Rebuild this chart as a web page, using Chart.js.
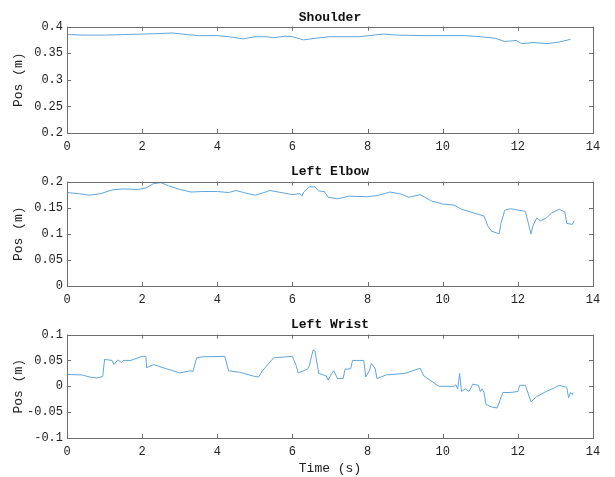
<!DOCTYPE html>
<html>
<head>
<meta charset="utf-8">
<script src="https://cdn.jsdelivr.net/npm/chart.js@4/dist/chart.umd.min.js"></script>
<style>
  html, body { margin: 0; padding: 0; background: #fff; }
  #wrap { position: relative; width: 615px; height: 477px; }
  .panel { position: absolute; left: 0; width: 615px; }
</style>
</head>
<body>
<div id="wrap">
  <div class="panel" style="top:0;height:160px"><canvas id="c1"></canvas></div>
  <div class="panel" style="top:155px;height:155px"><canvas id="c2"></canvas></div>
  <div class="panel" style="top:310px;height:167px"><canvas id="c3"></canvas></div>
</div>
<script>
// values (time in s, position in m)
const shoulderT = [0, 0.5, 1.0, 1.5, 2.0, 2.5, 2.8, 3.2, 3.5, 4.0, 4.3, 4.7, 5.0, 5.3, 5.5, 5.8, 6.0, 6.3, 6.6, 7.0, 7.4, 7.8, 8.4, 8.8, 9.5, 10.0, 10.6, 11.0, 11.4, 11.65, 11.8, 11.95, 12.1, 12.4, 12.8, 13.1, 13.4];
const shoulderY = [0.385, 0.384, 0.384, 0.385, 0.386, 0.387, 0.388, 0.385, 0.383, 0.383, 0.381, 0.377, 0.381, 0.381, 0.379, 0.382, 0.381, 0.375, 0.378, 0.381, 0.381, 0.381, 0.386, 0.384, 0.383, 0.383, 0.383, 0.381, 0.378, 0.372, 0.373, 0.374, 0.368, 0.370, 0.368, 0.371, 0.376];

const elbowT = [0, 0.3, 0.6, 0.9, 1.2, 1.5, 1.9, 2.1, 2.3, 2.5, 2.7, 3.0, 3.3, 3.6, 4.0, 4.3, 4.5, 4.7, 5.0, 5.2, 5.4, 5.7, 6.0, 6.2, 6.25, 6.3, 6.45, 6.6, 6.7, 6.85, 6.95, 7.2, 7.5, 8.0, 8.3, 8.6, 8.9, 9.1, 9.4, 9.7, 10.0, 10.3, 10.5, 11.1, 11.2, 11.3, 11.5, 11.55, 11.65, 11.8, 12.2, 12.35, 12.4, 12.5, 12.6, 12.75, 12.9, 13.1, 13.25, 13.3, 13.45, 13.5];
const elbowY = [0.179, 0.177, 0.174, 0.177, 0.184, 0.186, 0.185, 0.188, 0.196, 0.198, 0.192, 0.185, 0.180, 0.181, 0.181, 0.179, 0.183, 0.179, 0.174, 0.178, 0.183, 0.179, 0.175, 0.177, 0.172, 0.180, 0.190, 0.190, 0.182, 0.181, 0.170, 0.167, 0.172, 0.171, 0.174, 0.180, 0.176, 0.170, 0.175, 0.163, 0.157, 0.155, 0.147, 0.134, 0.115, 0.105, 0.100, 0.120, 0.145, 0.148, 0.143, 0.100, 0.115, 0.130, 0.125, 0.130, 0.140, 0.147, 0.142, 0.120, 0.118, 0.125];

const wristT = [0, 0.4, 0.6, 0.8, 0.95, 1.0, 1.2, 1.25, 1.35, 1.45, 1.5, 1.7, 2.0, 2.1, 2.12, 2.3, 2.6, 3.0, 3.3, 3.35, 3.45, 3.6, 4.2, 4.3, 4.6, 5.0, 5.1, 5.2, 5.5, 6.0, 6.1, 6.15, 6.4, 6.45, 6.55, 6.6, 6.7, 6.9, 6.95, 7.05, 7.1, 7.2, 7.35, 7.4, 7.55, 7.6, 7.9, 7.95, 8.05, 8.1, 8.2, 8.25, 8.5, 9.0, 9.4, 9.5, 9.9, 10.3, 10.35, 10.4, 10.45, 10.5, 10.6, 10.7, 10.8, 10.95, 11.0, 11.05, 11.1, 11.15, 11.3, 11.45, 11.6, 11.8, 12.0, 12.05, 12.2, 12.35, 12.5, 12.7, 13.0, 13.1, 13.2, 13.3, 13.35, 13.4, 13.45, 13.47];
const wristY = [0.023, 0.022, 0.018, 0.016, 0.019, 0.052, 0.050, 0.042, 0.051, 0.046, 0.050, 0.050, 0.058, 0.058, 0.036, 0.042, 0.035, 0.026, 0.030, 0.028, 0.055, 0.057, 0.058, 0.030, 0.027, 0.019, 0.018, 0.030, 0.055, 0.058, 0.040, 0.026, 0.033, 0.040, 0.070, 0.068, 0.025, 0.020, 0.012, 0.025, 0.030, 0.015, 0.015, 0.033, 0.034, 0.050, 0.050, 0.018, 0.030, 0.044, 0.035, 0.015, 0.022, 0.025, 0.035, 0.020, 0.000, 0.000, 0.003, -0.005, 0.025, -0.010, -0.005, -0.010, 0.004, 0.002, -0.010, -0.005, -0.012, -0.035, -0.040, -0.042, -0.012, -0.012, -0.010, 0.002, 0.002, -0.030, -0.020, -0.012, -0.002, 0.002, 0.000, -0.002, -0.022, -0.012, -0.016, -0.012];

const xTicks = [0, 2, 4, 6, 8, 10, 12, 14];
const shoulderTicks = [0.2, 0.25, 0.3, 0.35, 0.4];
const elbowTicks = [0, 0.05, 0.1, 0.15, 0.2];
const wristTicks = [-0.1, -0.05, 0, 0.05, 0.1];

const MONO = '"Liberation Mono", "DejaVu Sans Mono", monospace';
const LINE = 'rgb(96,166,222)';

// MATLAB style box with inward ticks on all four sides
const boxPlugin = {
  id: 'box',
  afterDraw(chart) {
    const {ctx, chartArea: a, scales} = chart;
    ctx.save();
    ctx.strokeStyle = '#6e6e6e';
    ctx.lineWidth = 1;
    ctx.strokeRect(Math.round(a.left) + 0.5, Math.round(a.top) + 0.5, Math.round(a.right - a.left), Math.round(a.bottom - a.top));
    ctx.beginPath();
    scales.x.ticks.forEach(t => {
      const px = Math.round(scales.x.getPixelForValue(t.value)) + 0.5;
      ctx.moveTo(px, a.bottom); ctx.lineTo(px, a.bottom - 4);
      ctx.moveTo(px, a.top); ctx.lineTo(px, a.top + 4);
    });
    scales.y.ticks.forEach(t => {
      const py = Math.round(scales.y.getPixelForValue(t.value)) + 0.5;
      ctx.moveTo(a.left, py); ctx.lineTo(a.left + 4, py);
      ctx.moveTo(a.right, py); ctx.lineTo(a.right - 4, py);
    });
    ctx.stroke();
    ctx.restore();
  }
};

function makePanel(id, title, ts, ys, yTicks, cfg) {
  const pts = ts.map((t, i) => ({x: t, y: ys[i]}));
  new Chart(document.getElementById(id), {
    type: 'line',
    data: {
      datasets: [{
        data: pts,
        borderColor: LINE,
        borderWidth: 1,
        pointRadius: 0,
        tension: 0,
        fill: false
      }]
    },
    options: {
      responsive: true,
      maintainAspectRatio: false,
      animation: false,
      layout: {padding: {left: 0, right: 22, top: 0, bottom: cfg.padBottom}},
      plugins: {
        legend: {display: false},
        tooltip: {enabled: false},
        title: {
          display: true,
          fullSize: false,   // centre over the plot box, like MATLAB
          text: title,
          color: '#111',
          font: {family: MONO, size: 13, weight: 'bold'},
          padding: {top: cfg.titleTop, bottom: cfg.titleBottom}
        }
      },
      scales: {
        x: {
          type: 'linear',
          min: 0, max: 14,
          afterBuildTicks: s => { s.ticks = xTicks.map(v => ({value: v})); },
          afterFit: s => { s.height = cfg.xHeight; },
          grid: {display: false, drawTicks: false},
          border: {display: false},
          ticks: {color: '#222', padding: 7, font: {family: MONO, size: 12}, maxRotation: 0},
          title: {
            display: cfg.xTitle,
            text: 'Time (s)',
            color: '#222',
            font: {family: MONO, size: 13},
            padding: {top: 0, bottom: 1}
          }
        },
        y: {
          type: 'linear',
          min: yTicks[0], max: yTicks[yTicks.length - 1],
          afterBuildTicks: s => { s.ticks = yTicks.map(v => ({value: v})); },
          afterFit: s => { s.width = 67; },
          grid: {display: false, drawTicks: false},
          border: {display: false},
          ticks: {
            color: '#222', padding: 4, font: {family: MONO, size: 12},
            callback: v => String(+v.toFixed(3))
          },
          title: {
            display: true,
            text: 'Pos (m)',
            color: '#222',
            font: {family: MONO, size: 13},
            padding: {top: 11, bottom: 0}
          }
        }
      }
    },
    plugins: [boxPlugin]
  });
}

makePanel('c1', 'Shoulder', shoulderT, shoulderY, shoulderTicks,
  {padBottom: 3, xHeight: 24, titleTop: 10, titleBottom: 1, xTitle: false});
makePanel('c2', 'Left Elbow', elbowT, elbowY, elbowTicks,
  {padBottom: 0, xHeight: 24, titleTop: 9, titleBottom: 2, xTitle: false});
makePanel('c3', 'Left Wrist', wristT, wristY, wristTicks,
  {padBottom: 0, xHeight: 39, titleTop: 7, titleBottom: 2, xTitle: true});
</script>
</body>
</html>
